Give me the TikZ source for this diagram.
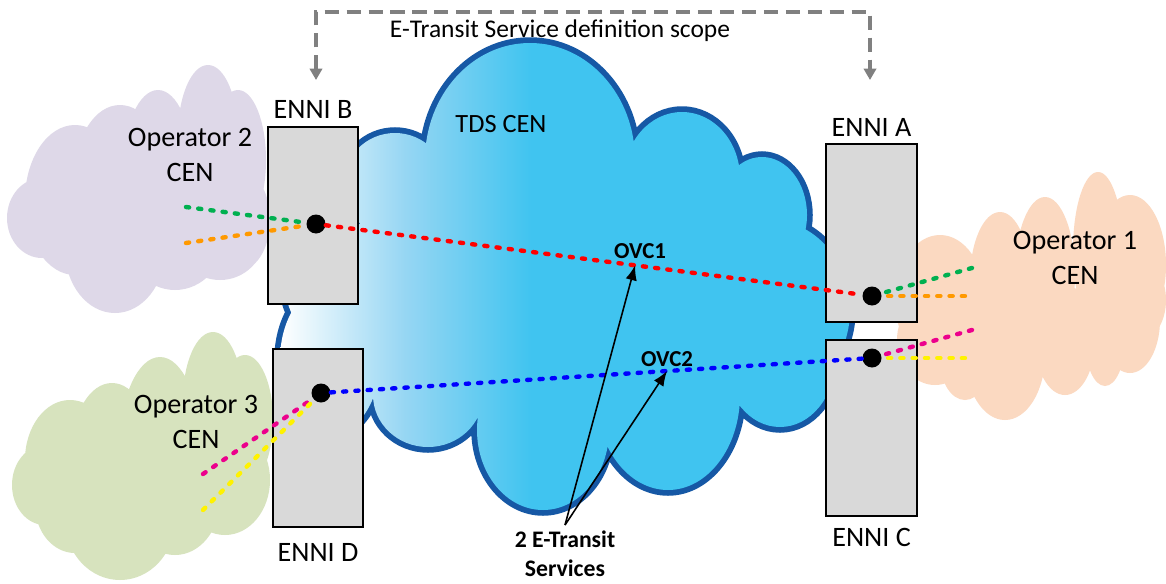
\documentclass[tikz,border=0pt]{standalone}
\usepackage{fontspec}
\setmainfont{Carlito}
\usetikzlibrary{positioning,arrows.meta,calc}
\definecolor{tdsln}{RGB}{22,88,165}
\definecolor{tdscy}{RGB}{64,196,240}
\definecolor{tdsmd}{RGB}{150,214,243}
\definecolor{opa}{RGB}{251,217,193}
\definecolor{opb}{RGB}{222,216,232}
\definecolor{opc}{RGB}{215,227,190}
\definecolor{ennigr}{RGB}{217,217,217}
\definecolor{scopegr}{RGB}{128,128,128}
\definecolor{ovcgreen}{RGB}{0,176,80}
\definecolor{ovcorange}{RGB}{255,153,0}
\pgfdeclarehorizontalshading{tdsfill}{100bp}{color(0bp)=(white); color(25bp)=(white); color(36bp)=(tdsmd); color(47bp)=(tdscy); color(100bp)=(tdscy)}
% cloud lobes: x/y/xradius/yradius
\def\tdslobes{395/398/52/52, 530/423/105/117, 682/405/58/66, 762/368/45/58,
  770/273/80/90, 780/223/55/67, 668/188/72/95, 543/153/66/80, 428/188/55/52,
  330/223/50/75, 320/333/40/90, 560/293/240/120}
\def\oplobesa{940/283/45/65, 1000/303/30/68, 1045/308/30/78, 1098/333/25/78,
  1130/318/36/70, 1140/283/26/40, 935/243/38/45, 965/223/25/40, 1005/228/40/65,
  1065/243/30/55, 1105/243/20/46, 1130/263/30/53}
\def\oplobesb{42/365/35/40, 75/383/50/75, 120/408/45/70, 158/413/35/80, 208/448/30/70,
  238/423/28/70, 115/333/50/63, 175/348/50/55, 220/348/45/45, 240/363/30/50}
\def\oplobesc{45/98/33/40, 70/123/45/60, 112/133/40/67, 160/138/40/88, 213/183/30/68,
  245/163/28/65, 120/63/55/60, 75/78/40/48, 175/83/45/55, 225/103/45/55}
\begin{document}
\begin{tikzpicture}[x=0.02cm,y=0.02cm,
  txt/.style={font=\fontsize{16}{19.5}\selectfont,align=center,inner sep=1pt},
  enni/.style={draw,line width=1.1pt,fill=ennigr,inner sep=0pt},
  pt/.style={circle,fill=black,minimum size=0.38cm,inner sep=0pt},
  ovl/.style={line width=2.5pt,dash pattern=on 1.8pt off 5.2pt,line cap=round},
  ovclbl/.style={font=\fontsize{13}{15}\selectfont\bfseries,inner sep=1pt},
  ptr/.style={line width=0.9pt,-{Latex[length=8.5pt,width=6.5pt]}},
  scopeln/.style={draw=scopegr,line width=1.9pt,dash pattern=on 8pt off 4.5pt,
    {Triangle[length=6.5pt,width=7pt]}-{Triangle[length=6.5pt,width=7pt]}}]
  \fill[white] (0,0) rectangle (1166,583);
  \useasboundingbox (0,0) rectangle (1166,583);
  % operator clouds
  \fill[opa] \foreach \x/\y/\a/\b in \oplobesa {(\x,\y) ellipse [x radius=\a, y radius=\b]};
  \fill[opb] \foreach \x/\y/\a/\b in \oplobesb {(\x,\y) ellipse [x radius=\a, y radius=\b]};
  \fill[opc] \foreach \x/\y/\a/\b in \oplobesc {(\x,\y) ellipse [x radius=\a, y radius=\b]};
  % TDS cloud: outline first, fill on top
  \draw[tdsln,line width=0.23cm] \foreach \x/\y/\a/\b in \tdslobes {(\x,\y) ellipse [x radius=\a, y radius=\b]};
  \shade[shading=tdsfill] \foreach \x/\y/\a/\b in \tdslobes {(\x,\y) ellipse [x radius=\a, y radius=\b]};
  \node[txt,font=\fontsize{15}{18}\selectfont] (tds) at (501,459) {TDS CEN};
  \node[txt] (opA) at (1075,325) {Operator 1\\CEN};
  \node[txt] (opB) at (190,428) {Operator 2\\CEN};
  \node[txt] (opC) at (196,161) {Operator 3\\CEN};
  % ENNIs
  \node[enni,minimum width=1.8cm,minimum height=3.54cm] (bB) at (313,367.5) {};
  \node[enni,minimum width=1.8cm,minimum height=3.56cm] (bD) at (318,145) {};
  \node[enni,minimum width=1.82cm,minimum height=3.56cm] (bA) at (871.5,350) {};
  \node[enni,minimum width=1.82cm,minimum height=3.52cm] (bC) at (871.5,155) {};
  \node[txt,above=3pt of bB] (tB) {ENNI B};
  \node[txt,above=2.5pt of bA] (tA) {ENNI A};
  \node[txt,below=7.5pt of bD] (tD) {ENNI D};
  \node[txt,below=5.2pt of bC] (tC) {ENNI C};
  % OVC end points
  \node[pt] (dB) at (316,359) {};
  \node[pt] (dD) at (321,190) {};
  \node[pt] (dA) at (872,287) {};
  \node[pt] (dC) at (872,225) {};
  \coordinate (gB) at (186,376); \coordinate (oB) at (186,340);
  \coordinate (gA) at (972,315); \coordinate (oA) at (965,287);
  \coordinate (mC) at (972,253); \coordinate (yC) at (965,225);
  \coordinate (mD) at (203,109); \coordinate (yD) at (203,73);
  \draw[ovl,red] (dB) -- (dA);
  \draw[ovl,blue] (dD) -- (dC);
  \draw[ovl,ovcgreen] (gB) -- (dB); \draw[ovl,ovcorange] (oB) -- (dB);
  \draw[ovl,ovcgreen] (gA) -- (dA); \draw[ovl,ovcorange] (oA) -- (dA);
  \draw[ovl,magenta] (mC) -- (dC); \draw[ovl,yellow] (yC) -- (dC);
  \draw[ovl,magenta] (mD) -- (dD); \draw[ovl,yellow] (yD) -- (dD);
  % services
  \coordinate (ovcA) at ($(dB)!0.574!(dA)$);
  \coordinate (ovcB) at ($(dD)!0.628!(dC)$);
  \coordinate (src) at (565,58);
  \draw[ptr] (src) -- (ovcA);
  \draw[ptr] (src) -- (ovcB);
  \node[ovclbl] (lA) at (640,331.5) {OVC1};
  \node[ovclbl] (lB) at (667,223.5) {OVC2};
  \node[ovclbl,font=\fontsize{13.5}{16.5}\selectfont\bfseries,align=center,below=2pt of src] (svc) {2 E-Transit\\Services};
  % scope
  \coordinate (sB) at (316,503); \coordinate (sA) at (870,503);
  \draw[scopeln] (sB) -- ++(0,68) -| (sA);
  \node[txt,font=\fontsize{14.5}{17}\selectfont] (scp) at (560,552) {E-Transit Service definition scope};
\end{tikzpicture}
\end{document}
